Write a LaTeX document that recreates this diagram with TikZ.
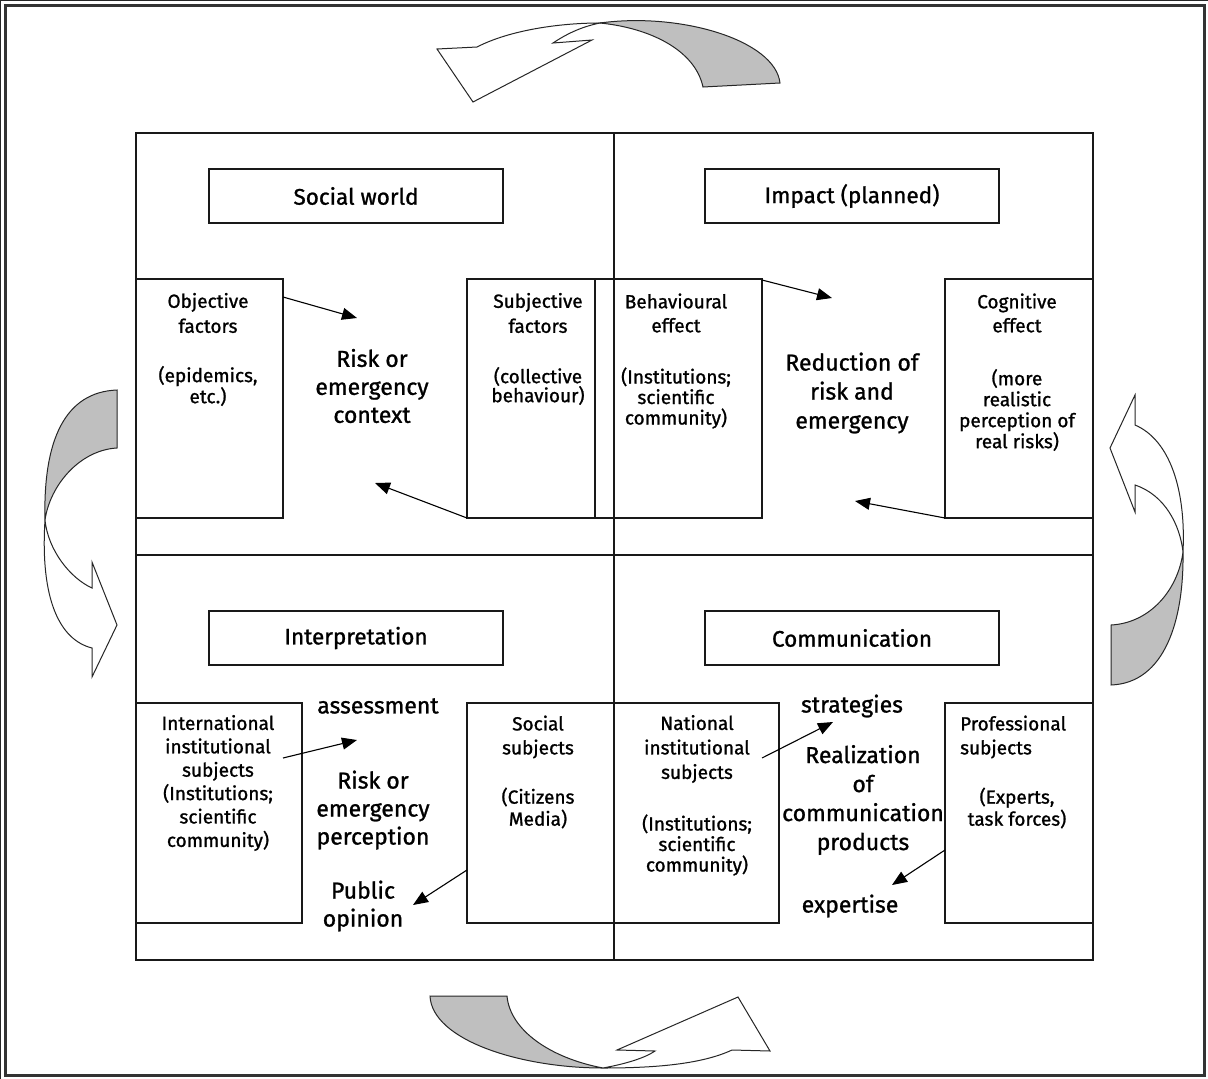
\documentclass[tikz,border=0pt]{standalone}
\usepackage{fontspec}
\setmainfont{Fira Sans}[FakeBold=1.1]
\usetikzlibrary{arrows.meta}
\begin{document}
\begin{tikzpicture}[x=1pt,y=-1pt,
  ln/.style={line width=1.2pt, black!90},
  boxx/.style={draw=black!90, line width=1.2pt, anchor=north west, inner sep=0pt, outer sep=0pt},
  ttl/.style={draw=black!90, line width=1.4pt, minimum width=294pt, minimum height=54pt, inner sep=0pt, font=\fontsize{22.5}{26}\selectfont},
  bt/.style={align=center, inner sep=0pt, font=\fontsize{19}{23}\selectfont},
  ct/.style={align=center, inner sep=0pt, font=\fontsize{23}{28}\selectfont},
  arr/.style={line width=1.1pt, -{Triangle[length=15pt,width=12pt]}},
  band/.style={line width=1pt, draw=black!85},
  grey/.style={band, fill=black!25},
  white/.style={band, fill=white},
  ]
\useasboundingbox (0,0) rectangle (1208,1079);
\fill[white] (0,0) rectangle (1208,1079);
% outer frame
\draw[line width=3pt, draw=black!80] (5,5) rectangle (1204,1075);

% main grid
\draw[ln] (136,133) rectangle (1093,960);
\draw[ln] (614,133) -- (614,960);
\draw[ln] (136,555) -- (1093,555);

% title boxes
\node[ttl] (tsw) at (356,196) {Social world};
\node[ttl] (tim) at (852,196) {Impact (planned)};
\node[ttl] (tin) at (356,638) {Interpretation};
\node[ttl] (tco) at (852,638) {Communication};

% side boxes
\node[boxx, minimum width=147pt, minimum height=239pt] (objbox) at (136,279) {};
\node[boxx, minimum width=147pt, minimum height=239pt] (subbox) at (467,279) {};
\draw[ln] (595,279) -- (595,518);
\node[boxx, minimum width=148pt, minimum height=239pt] (behbox) at (614,279) {};
\node[boxx, minimum width=148pt, minimum height=239pt] (cogbox) at (945,279) {};
\node[boxx, minimum width=166pt, minimum height=220pt] (intbox) at (136,703) {};
\node[boxx, minimum width=147pt, minimum height=220pt] (socbox) at (467,703) {};
\node[boxx, minimum width=165pt, minimum height=220pt] (natbox) at (614,703) {};
\node[boxx, minimum width=148pt, minimum height=220pt] (probox) at (945,703) {};

% texts top-left
\node[bt, font=\fontsize{19}{25}\selectfont] (objA) at (208,313) {Objective\\factors};
\node[bt, font=\fontsize{19}{19}\selectfont] (objB) at (208,386) {(epidemics,\\etc.)};
\node[ct] (ctx) at (372,386) {Risk or\\emergency\\context};
\node[bt, font=\fontsize{19}{25}\selectfont] (subA) at (538,313) {Subjective\\factors};
\node[bt, font=\fontsize{19}{19}\selectfont] (subB) at (538,386) {(collective\\behaviour)};

% texts top-right
\node[bt, font=\fontsize{19}{24}\selectfont] (behA) at (676,313) {Behavioural\\effect};
\node[bt, font=\fontsize{19}{20.5}\selectfont] (behB) at (676,398) {(Institutions;\\scientific\\community)};
\node[ct, font=\fontsize{23}{29}\selectfont] (red) at (852,393) {Reduction of\\risk and\\emergency};
\node[bt, font=\fontsize{19}{24}\selectfont] (cogA) at (1017,313) {Cognitive\\effect};
\node[bt, font=\fontsize{19}{21}\selectfont] (cogB) at (1017,410) {(more\\realistic\\perception of\\real risks)};

% texts bottom-left
\node[bt, font=\fontsize{19}{23.4}\selectfont] (intA) at (218,783) {International\\institutional\\subjects\\(Institutions;\\scientific\\community)};
\node[ct] (ass) at (378,706) {assessment};
\node[ct] (rep) at (373,810) {Risk or\\emergency\\perception};
\node[ct] (pub) at (363,906) {Public\\opinion};
\node[bt, font=\fontsize{19}{24}\selectfont] (socA) at (538,737) {Social\\subjects};
\node[bt, font=\fontsize{19}{22}\selectfont] (socB) at (538,808) {(Citizens\\Media)};

% texts bottom-right
\node[bt, font=\fontsize{19}{24.5}\selectfont] (natA) at (697,749) {National\\institutional\\subjects};
\node[bt, font=\fontsize{19}{20.5}\selectfont] (natB) at (697,845) {(Institutions;\\scientific\\community)};
\node[ct] (str) at (852,706) {strategies};
\node[ct, font=\fontsize{23}{29}\selectfont] (rea) at (863,800) {Realization\\of\\communication\\products};
\node[bt, align=left, anchor=west, font=\fontsize{19}{24}\selectfont] (proA) at (960,737) {Professional\\subjects};
\node[bt, font=\fontsize{19}{22}\selectfont] (proB) at (1017,808) {(Experts,\\task forces)};
\node[ct] (exp) at (850,906) {expertise};

% arrows
\coordinate (a1s) at (283,297); \coordinate (a1e) at (357,318);
\coordinate (a2s) at (467,518); \coordinate (a2e) at (375,483);
\coordinate (a3s) at (762,280); \coordinate (a3e) at (832,298);
\coordinate (a4s) at (945,518); \coordinate (a4e) at (855,501);
\coordinate (a5s) at (283,758); \coordinate (a5e) at (357,740);
\coordinate (a6s) at (467,870); \coordinate (a6e) at (413,905);
\coordinate (a7s) at (762,758); \coordinate (a7e) at (833,722);
\coordinate (a8s) at (945,850); \coordinate (a8e) at (892,885);
\draw[arr] (a1s) -- (a1e);
\draw[arr] (a2s) -- (a2e);
\draw[arr] (a3s) -- (a3e);
\draw[arr] (a4s) -- (a4e);
\draw[arr] (a5s) -- (a5e);
\draw[arr] (a6s) -- (a6e);
\draw[arr] (a7s) -- (a7e);
\draw[arr] (a8s) -- (a8e);

% top curved arrow
\draw[grey] (600,23) .. controls (680,12) and (775,40) .. (780,83) -- (703,87)
  .. controls (695,50) and (650,28) .. (600,23) -- cycle;
\draw[white] (437,49) -- (477,47) .. controls (510,30) and (560,23) .. (600,23)
  .. controls (580,27) and (565,35) .. (553,43) -- (592,40) -- (473,102) -- cycle;

% bottom curved arrow
\draw[grey] (430,996) .. controls (432,1040) and (520,1068) .. (603,1068)
  .. controls (550,1058) and (510,1030) .. (507,996) -- cycle;
\draw[white] (603,1068) .. controls (625,1064) and (645,1058) .. (655,1051) -- (617,1050)
  -- (738,997) -- (770,1051) -- (732,1050) .. controls (700,1065) and (650,1068) .. (603,1068) -- cycle;

% left curved arrow
\draw[grey] (117,390) .. controls (65,392) and (43,440) .. (45,520)
  .. controls (50,485) and (80,450) .. (117,448) -- cycle;
\draw[white] (45,520) .. controls (48,550) and (70,578) .. (92,588) -- (92,562) -- (117,625)
  -- (92,677) -- (92,648) .. controls (60,640) and (40,600) .. (45,520) -- cycle;

% right curved arrow
\draw[grey] (1111,685) .. controls (1165,683) and (1184,620) .. (1183,552)
  .. controls (1178,590) and (1150,623) .. (1111,625) -- cycle;
\draw[white] (1183,552) .. controls (1186,490) and (1170,440) .. (1135,425) -- (1135,395)
  -- (1110,448) -- (1135,512) -- (1135,485) .. controls (1165,495) and (1180,525) .. (1183,552) -- cycle;
\end{tikzpicture}
\end{document}
